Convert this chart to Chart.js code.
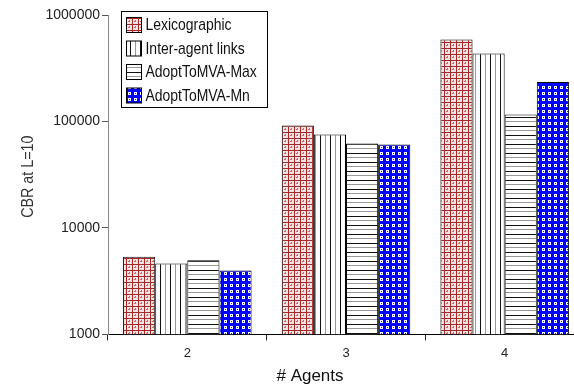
<!DOCTYPE html>
<html>
<head>
<meta charset="utf-8">
<script src="https://cdn.jsdelivr.net/npm/chart.js@4/dist/chart.umd.min.js"></script>
<style>
  html, body { margin: 0; padding: 0; background: #fff; overflow: hidden; }
  #wrap { width: 574px; height: 387px; overflow: hidden; }
</style>
</head>
<body>
<div id="wrap"><canvas id="chart" width="584" height="387"></canvas></div>
<script>
const agents = ["2", "3", "4"];
const seriesNames = ["Lexicographic", "Inter-agent links", "AdoptToMVA-Max", "AdoptToMVA-Mn"];
const lexicographic = [5360, 91700, 590000];
const interAgent = [4645, 75400, 435000];
const adoptMax = [4960, 62000, 116000];
const adoptMin = [3990, 60700, 235000];
const yTicks = [1000, 10000, 100000, 1000000];

const canvas = document.getElementById("chart");
const ctx = canvas.getContext("2d");

// small tiles used as fill patterns, like the old hatched chart
function tile(w, h, draw) {
  const c = document.createElement("canvas");
  c.width = w;
  c.height = h;
  draw(c.getContext("2d"));
  return ctx.createPattern(c, "repeat");
}

const lexFill = tile(6, 6, g => {
  g.fillStyle = "#f6e4e4";
  g.fillRect(0, 0, 6, 6);
  g.fillStyle = "#a52828";
  g.fillRect(0, 0, 6, 1);
  g.fillRect(0, 0, 1, 6);
  g.fillStyle = "#c86a6a";
  g.fillRect(3, 3, 1, 1);
  g.fillRect(2, 3, 1, 1);
  g.fillRect(3, 2, 1, 1);
});

const vertFill = tile(10, 1, g => {
  g.fillStyle = "#fff";
  g.fillRect(0, 0, 10, 1);
  g.fillStyle = "#111";
  g.fillRect(0, 0, 1, 1);
  g.fillStyle = "#999";
  g.fillRect(5, 0, 1, 1);
});

const horzFill = tile(1, 9, g => {
  g.fillStyle = "#fff";
  g.fillRect(0, 0, 1, 9);
  g.fillStyle = "#111";
  g.fillRect(0, 0, 1, 1);
  g.fillStyle = "#999";
  g.fillRect(0, 4, 1, 1);
});

const minFill = tile(6, 6, g => {
  g.fillStyle = "#0000ff";
  g.fillRect(0, 0, 6, 6);
  g.fillStyle = "#ffffff";
  g.fillRect(2, 2, 3, 3);
  g.fillStyle = "#2020ff";
  g.fillRect(3, 3, 1, 1);
});

const fills = [lexFill, vertFill, horzFill, minFill];

// legend box, and the two axis titles in a squeezed face
const extras = {
  id: "extras",
  afterDraw(chart) {
    const c = chart.ctx;
    const a = chart.chartArea;
    const x0 = a.left + 13.5, y0 = a.top - 3.5;
    c.save();
    c.strokeStyle = "#000";
    c.lineWidth = 1;
    c.strokeRect(x0, y0, 146, 96);
    c.font = "17px 'Liberation Sans', Arial, sans-serif";
    c.textBaseline = "middle";
    chart.data.datasets.forEach((ds, i) => {
      const cy = y0 + 13 + i * 23.5;
      c.fillStyle = ds.backgroundColor;
      c.fillRect(x0 + 5, cy - 7, 15, 15);
      c.strokeStyle = "#000";
      c.strokeRect(x0 + 5, cy - 7, 15, 15);
      c.save();
      c.translate(x0 + 24, cy + 1);
      c.scale(0.82, 1);
      c.fillStyle = "#111";
      c.fillText(ds.label, 0, 0);
      c.restore();
    });

    c.fillStyle = "#111";
    c.textAlign = "center";
    c.font = "17px 'Liberation Sans', Arial, sans-serif";
    c.fillText("# Agents", a.left + 202, 376);

    c.save();
    c.translate(28, (a.top + a.bottom) / 2 + 2);
    c.rotate(-Math.PI / 2);
    c.scale(0.84, 1);
    c.fillStyle = "#333";
    c.fillText("CBR at L=10", 0, 0);
    c.restore();
    c.restore();
  }
};

new Chart(canvas, {
  type: "bar",
  data: {
    labels: agents,
    datasets: [lexicographic, interAgent, adoptMax, adoptMin].map((d, i) => ({
      label: seriesNames[i],
      data: d,
      backgroundColor: fills[i],
      borderColor: "#000",
      borderWidth: 1
    }))
  },
  options: {
    responsive: false,
    animation: false,
    devicePixelRatio: 1,
    layout: { padding: { top: 15, right: 0, bottom: 21, left: 0 } },
    datasets: { bar: { categoryPercentage: 0.81, barPercentage: 1 } },
    plugins: { legend: { display: false }, tooltip: { enabled: false } },
    scales: {
      x: {
        grid: { offset: true, drawOnChartArea: false, tickLength: 6, color: "#222" },
        border: { color: "#000" },
        ticks: { color: "#222", padding: 5, font: { family: "'Liberation Sans', Arial", size: 13 } }
      },
      y: {
        type: "logarithmic",
        min: 1000,
        max: 1000000,
        afterBuildTicks: s => { s.ticks = yTicks.map(v => ({ value: v })); },
        afterFit: s => { s.width = 108; },
        grid: { drawOnChartArea: false, tickLength: 6, color: "#555" },
        border: { color: "#888" },
        ticks: {
          color: "#222",
          padding: 2,
          font: { family: "'Liberation Sans', Arial", size: 14 },
          callback: v => String(v)
        }
      }
    }
  },
  plugins: [extras]
});
</script>
</body>
</html>
